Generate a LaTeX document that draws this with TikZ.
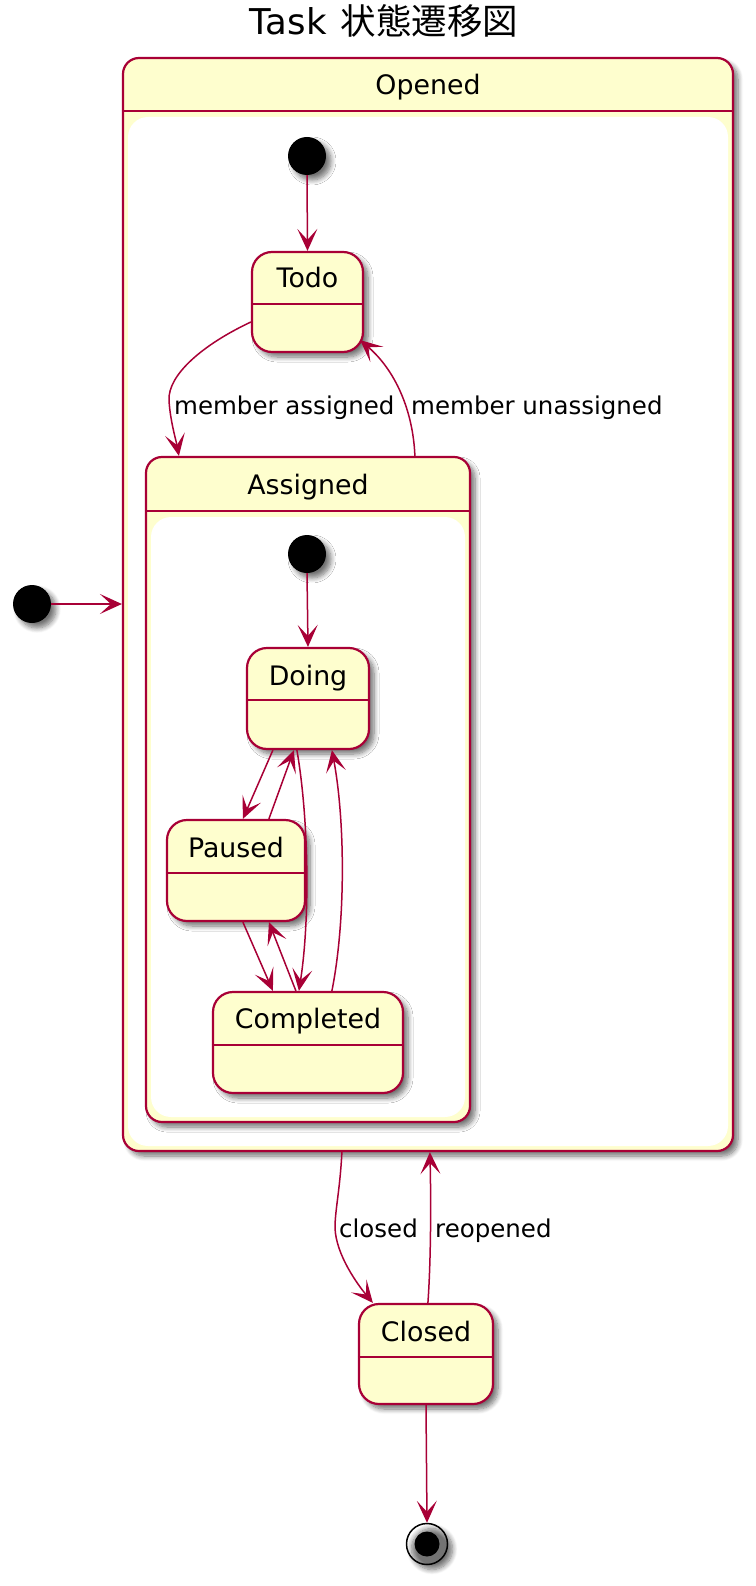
\documentclass[tikz,border=0pt]{standalone}
\usepackage{fontspec}
\setmainfont{DejaVu Sans}
\newfontfamily\cjk{Noto Sans CJK JP}
\usetikzlibrary{arrows.meta,shadows.blur,calc}
\definecolor{bordo}{HTML}{A80036}
\definecolor{sfill}{HTML}{FEFECE}
\tikzset{
  shd/.style={blur shadow={shadow xshift=5pt,shadow yshift=-5pt,shadow blur radius=5pt,shadow blur steps=8,shadow opacity=55}},
  statebox/.style={draw=bordo,fill=sfill,line width=2.2pt,rounded corners=20pt,inner sep=0pt,shd},
  compbox/.style={draw=bordo,fill=sfill,line width=2.2pt,rounded corners=16pt,inner sep=0pt,shd},
  inwhite/.style={fill=white,rounded corners=20pt},
  sepline/.style={draw=bordo,line width=2.2pt},
  sname/.style={anchor=base,inner sep=0pt,font=\fontsize{26.8}{30}\selectfont},
  lbl/.style={anchor=base west,inner sep=0pt,font=\fontsize{24.5}{28}\selectfont},
  tr/.style={draw=bordo,line width=1.5pt,-{Stealth[length=22pt,width=20pt,inset=11pt]}},
  startdot/.style={circle,fill=black,minimum size=38pt,inner sep=0pt,shd},
}
\begin{document}
\begin{tikzpicture}[x=1pt,y=-1pt]
\useasboundingbox (0,0) rectangle (755,1586);

% title
\node[anchor=base,inner sep=0pt,font=\fontsize{35.5}{40}\selectfont] (title) at (384,35) {Task\hspace{14pt}{\cjk 状態遷移図}};

% Opened composite
\node[compbox,minimum width=610pt,minimum height=1093pt] (opened) at (428,604.5) {};
\fill[inwhite] (128,117) rectangle (728,1146);
\draw[sepline] (opened.west |- 0,111) -- (opened.east |- 0,111);
\node[sname] (openedt) at (428,95) {Opened};

% initial states
\node[startdot] (init1) at (32,604) {};
\node[startdot] (init2) at (307,156) {};

% Todo
\node[statebox,minimum width=111pt,minimum height=100pt] (todo) at (307.5,302) {};
\draw[sepline] (todo.west |- 0,304) -- (todo.east |- 0,304);
\node[sname] (todot) at (307.5,288) {Todo};

% Assigned composite
\node[compbox,minimum width=324pt,minimum height=665pt] (assigned) at (308,789.5) {};
\fill[inwhite] (151,517) rectangle (465,1117);
\draw[sepline] (assigned.west |- 0,511) -- (assigned.east |- 0,511);
\node[sname] (assignedt) at (308,494) {Assigned};

\node[startdot] (init3) at (307,554) {};

% Doing
\node[statebox,minimum width=122pt,minimum height=101pt] (doing) at (308,698.5) {};
\draw[sepline] (doing.west |- 0,700) -- (doing.east |- 0,700);
\node[sname] (doingt) at (308,685) {Doing};

% Paused
\node[statebox,minimum width=138pt,minimum height=101pt] (paused) at (236,870.5) {};
\draw[sepline] (paused.west |- 0,873) -- (paused.east |- 0,873);
\node[sname] (pausedt) at (236,857) {Paused};

% Completed
\node[statebox,minimum width=190pt,minimum height=101pt] (completed) at (308,1042.5) {};
\draw[sepline] (completed.west |- 0,1045) -- (completed.east |- 0,1045);
\node[sname] (completedt) at (308,1028) {Completed};

% Closed
\node[statebox,minimum width=134pt,minimum height=100pt] (closed) at (426,1354) {};
\draw[sepline] (closed.west |- 0,1357) -- (closed.east |- 0,1357);
\node[sname] (closedt) at (426,1341) {Closed};

% final state
\node[circle,draw=black,line width=1.5pt,minimum size=41pt,inner sep=0pt,shd] (fin) at (427,1544) {};
\node[circle,fill=black,minimum size=25pt,inner sep=0pt] (finin) at (fin.center) {};

% transitions
\draw[tr] (init1.east) -- (init1 -| opened.west);
\draw[tr] (init2.south) -- (todo.north);

\draw[tr] ($(todo.west)+(0,20)$) .. controls (202,345) and (168,375) .. (169,400)
  .. controls (170,420) and (176,440) .. ($(assigned.north west)+(34,0)$);
\node[lbl] (lma) at (174,414) {member assigned};

\draw[tr] ($(assigned.north west)+(270,0)$) .. controls (413,410) and (395,370) .. ($(todo.south east)+(-4,-13)$);
\node[lbl] (lmu) at (411,414) {member unassigned};

\draw[tr] (init3.south) -- (doing.north);

\draw[tr] ($(doing.south west)+(27,0)$) -- ($(paused.north west)+(77,0)$);
\draw[tr] ($(paused.north west)+(103,0)$) -- ($(doing.south west)+(48,0)$);
\draw[tr] ($(doing.south west)+(51,0)$) .. controls (309,820) and (310,920) .. ($(completed.north west)+(87,0)$);
\draw[tr] ($(completed.north west)+(120,0)$) .. controls (346,920) and (345,820) .. ($(doing.south west)+(86,0)$);
\draw[tr] ($(paused.south west)+(77,0)$) -- ($(completed.north west)+(61,0)$);
\draw[tr] ($(completed.north west)+(84,0)$) -- ($(paused.south west)+(103,0)$);

\draw[tr] ($(opened.south west)+(220,0)$) .. controls (340,1190) and (335,1210) .. (335,1228)
  .. controls (336,1255) and (358,1285) .. ($(closed.north west)+(15,0)$);
\node[lbl] (lclosed) at (339,1237) {closed};

\draw[tr] ($(closed.north west)+(70,0)$) .. controls (431,1260) and (431,1200) .. ($(opened.south west)+(308,0)$);
\node[lbl] (lreopened) at (435,1237) {reopened};

\draw[tr] (closed.south) -- (fin.north);
\end{tikzpicture}
\end{document}
